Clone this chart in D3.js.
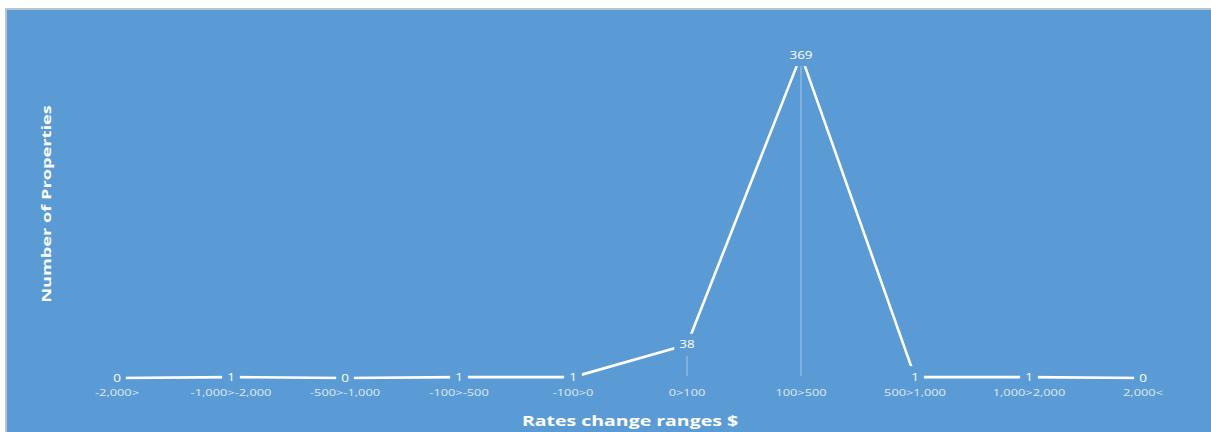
<!DOCTYPE html>
<html>
<head>
<meta charset="utf-8">
<script src="https://cdn.jsdelivr.net/npm/d3@7/dist/d3.min.js"></script>
<style>
  html, body { margin: 0; padding: 0; background: #ffffff; }
  svg { display: block; }
  text { font-family: "Open Sans", "Liberation Sans", sans-serif; fill: #ffffff; }
</style>
</head>
<body>
<div id="chart"></div>
<script>
// Rate change ranges and how many properties fall into each
const categories = ["-2,000>", "-1,000>-2,000", "-500>-1,000", "-100>-500", "-100>0",
                    "0>100", "100>500", "500>1,000", "1,000>2,000", "2,000<"];
const counts = [0, 1, 0, 1, 1, 38, 369, 1, 1, 0];
const yMax = 400;

const W = 1211, H = 432;
const bg = "#5b9bd5";
const stretch = 1.35; // horizontal glyph stretch used for the labels

const svg = d3.select("#chart").append("svg")
  .attr("width", W).attr("height", H);

// chart area with a thin grey frame
svg.append("rect")
  .attr("x", 6).attr("y", 9)
  .attr("width", W).attr("height", H)
  .attr("fill", bg)
  .attr("stroke", "#b9c4cf").attr("stroke-width", 2);

const x = d3.scaleBand().domain(categories).range([60, 1200]);
const y = d3.scaleLinear().domain([0, yMax]).range([378, 28]);
const cx = c => x(c) + x.bandwidth() / 2;

const data = categories.map((c, i) => ({ cat: c, value: counts[i] }));

// drop lines from each point to the baseline
svg.append("g").selectAll("line").data(data).join("line")
  .attr("x1", d => cx(d.cat)).attr("x2", d => cx(d.cat))
  .attr("y1", d => y(d.value)).attr("y2", y(0) - 2)
  .attr("stroke", "rgba(255,255,255,0.38)").attr("stroke-width", 1.2);

// the count series
const line = d3.line().x(d => cx(d.cat)).y(d => y(d.value));
svg.append("path").datum(data)
  .attr("d", line)
  .attr("fill", "none")
  .attr("stroke", "#ffffff")
  .attr("stroke-width", 2.6)
  .attr("stroke-linejoin", "round");

// value labels sitting on the points, on a background box that breaks the line
const labels = svg.append("g").selectAll("g").data(data).join("g")
  .attr("transform", d => `translate(${cx(d.cat)},${y(d.value)})`);
labels.each(function(d) {
  const g = d3.select(this);
  const t = g.append("text")
    .attr("text-anchor", "middle")
    .attr("dy", "0.35em")
    .attr("transform", `scale(${stretch},1)`)
    .style("font-size", "10px")
    .text(d3.format(",")(d.value));
  const w = t.node().getComputedTextLength() * stretch + 10;
  g.insert("rect", "text")
    .attr("x", -w / 2).attr("y", -11)
    .attr("width", w).attr("height", 22)
    .attr("fill", bg);
});

// category axis labels
const xAxis = d3.axisBottom(x).tickSize(0).tickPadding(0);
const ax = svg.append("g").attr("transform", "translate(0,389)").call(xAxis);
ax.select(".domain").remove();
ax.selectAll("text")
  .attr("x", 0).attr("y", 0).attr("dy", "0.72em")
  .attr("transform", `scale(${stretch},1)`)
  .style("font-size", "9.5px")
  .style("fill", "rgba(255,255,255,0.82)")
  .style("font-family", "\"Open Sans\", sans-serif");

// axis titles
svg.append("text")
  .attr("transform", `translate(630,426) scale(1.3,1)`)
  .attr("text-anchor", "middle")
  .style("font-size", "15px").style("font-weight", "700")
  .text("Rates change ranges $");

svg.append("text")
  .attr("transform", `translate(51,204) rotate(-90) scale(1.4,1)`)
  .attr("text-anchor", "middle")
  .style("font-size", "13px").style("font-weight", "700")
  .text("Number of Properties");
</script>
</body>
</html>
